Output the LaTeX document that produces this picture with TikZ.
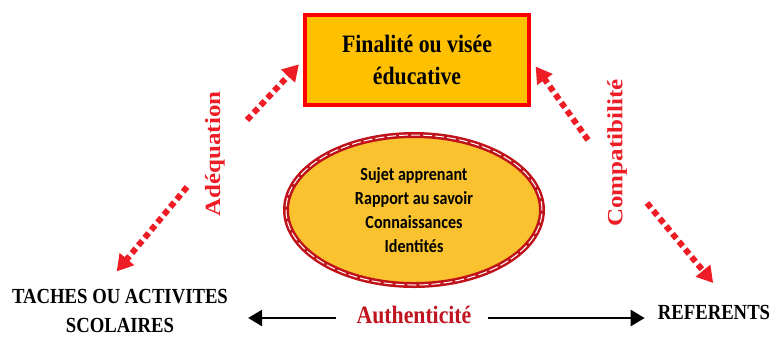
\documentclass[tikz,border=0pt]{standalone}
\usepackage{fontspec}
\setmainfont{Liberation Serif}
\newfontfamily\calib{Carlito}
\usetikzlibrary{arrows.meta,shapes.geometric,calc}
\definecolor{boxfill}{HTML}{FFC000}
\definecolor{boxline}{HTML}{FF0000}
\definecolor{ellfill}{HTML}{F9C22E}
\definecolor{ellline}{HTML}{C0121A}
\definecolor{lblred}{HTML}{EE1C25}
\definecolor{authred}{HTML}{C0141E}
\newcommand{\hsq}[1]{\scalebox{0.87}[1]{#1}}
\newcommand{\vsq}[1]{\scalebox{1}[0.87]{#1}}
\begin{document}
\begin{tikzpicture}[x=1pt,y=-1pt,
  goalbox/.style={draw=boxline, line width=4pt, fill=boxfill, minimum width=224pt,
    minimum height=90pt, inner sep=0pt, align=center,
    font=\bfseries\fontsize{25}{32}\selectfont},
  subjell/.style={ellipse, draw=ellline, line width=6pt, fill=ellfill,
    minimum width=256pt, minimum height=150pt, inner sep=0pt, align=center,
    font=\calib\bfseries\fontsize{18.5}{24}\selectfont,
    postaction={draw=white, line width=1pt, dash pattern=on 9pt off 3pt}},
  poletext/.style={inner sep=0pt, align=center, font=\bfseries\fontsize{21.5}{29}\selectfont},
  sidelabel/.style={inner sep=0pt, rotate=90, text=lblred, font=\bfseries\fontsize{25}{30}\selectfont},
  authlabel/.style={inner sep=0pt, text=authred, font=\bfseries\fontsize{25}{30}\selectfont},
  reddash/.style={draw=lblred, line width=6pt, dash pattern=on 6pt off 4pt,
    -{Triangle[length=16pt,width=18pt]}},
  blk/.style={draw=black, line width=2.5pt, -{Triangle[length=14pt,width=16pt]}}
]
\useasboundingbox (0,0) rectangle (773,338);
\fill[white] (0,0) rectangle (773,338);

\node[goalbox] (goal) at (417,60) {\hsq{Finalité ou visée}\\\hsq{éducative}};
\node[subjell] (subj) at (414,210) {\hsq{Sujet apprenant}\\\hsq{Rapport au savoir}\\\hsq{Connaissances}\\\hsq{Identités}};
\node[poletext] (tasks) at (120,311) {\hsq{TACHES OU ACTIVITES}\\\hsq{SCOLAIRES}};
\node[poletext] (refs) at (714,312) {\hsq{REFERENTS}};
\node[authlabel] (auth) at (414,314.5) {\hsq{Authenticité}};
\node[sidelabel] (adq) at (215,154) {\vsq{Adéquation}};
\node[sidelabel] (cmp) at (617,153) {\vsq{Compatibilité}};

\coordinate (adqA) at (247,120);
\coordinate (adqB) at (187,187);
\coordinate (cmpA) at (588,140);
\coordinate (cmpB) at (647,203);
\draw[reddash, shorten >=6pt] (adqA) -- (goal.west);
\draw[reddash, shorten >=23pt] (adqB) -- ([xshift=-18pt]tasks.north);
\draw[reddash, shorten >=8pt] (cmpA) -- (goal.east);
\draw[reddash, shorten >=28pt] (cmpB) -- ([xshift=17pt]refs.north);

\coordinate (authL) at ([yshift=-3.5pt]auth.west);
\coordinate (authR) at ([yshift=-3.5pt]auth.east);
\draw[blk, shorten <=20pt, shorten >=20pt] (authL) -- (authL -| tasks.east);
\draw[blk, shorten <=16pt, shorten >=13pt] (authR) -- (authR -| refs.west);
\end{tikzpicture}
\end{document}
